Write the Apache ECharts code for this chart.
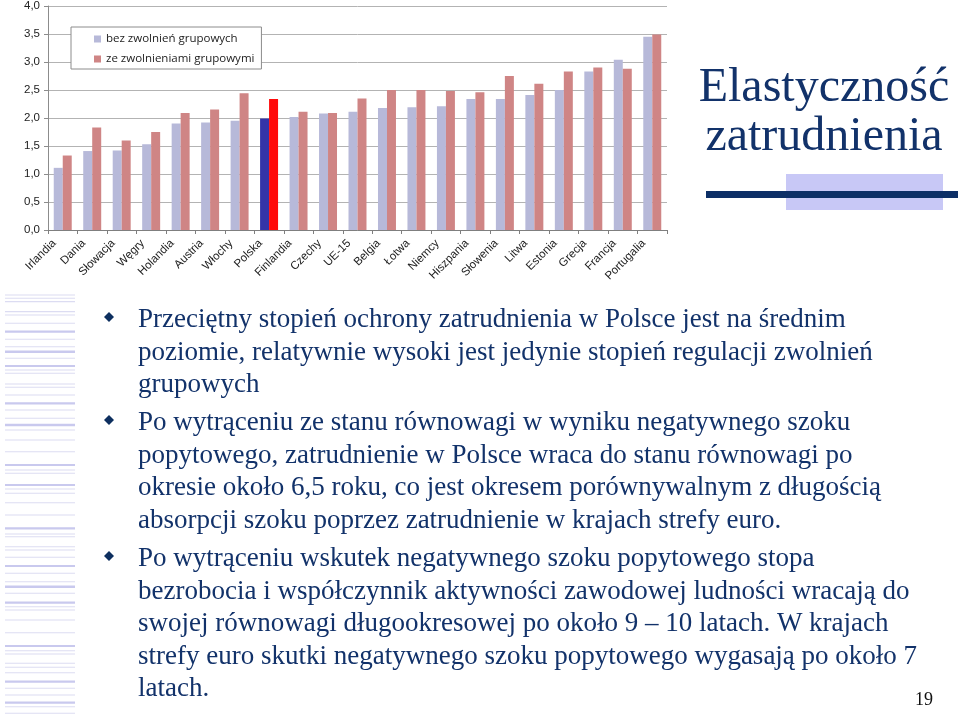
<!DOCTYPE html>
<html><head><meta charset="utf-8">
<script src="https://cdn.jsdelivr.net/npm/echarts@6/dist/echarts.min.js"></script>
<style>html,body{margin:0;padding:0;background:#fff}#c{width:960px;height:715px}</style>
</head><body><div id="c"></div>
<script>
// ---- data ----
const categories = ['Irlandia','Dania','Słowacja','Węgry','Holandia','Austria','Włochy','Polska','Finlandia','Czechy','UE-15','Belgia','Łotwa','Niemcy','Hiszpania','Słowenia','Litwa','Estonia','Grecja','Francja','Portugalia'];
const bezZwolnien = [1.11,1.41,1.42,1.53,1.90,1.92,1.95,1.99,2.02,2.08,2.11,2.18,2.19,2.21,2.34,2.34,2.41,2.50,2.83,3.04,3.45];
const zeZwolnieniami = [1.33,1.83,1.60,1.75,2.09,2.15,2.44,2.34,2.11,2.09,2.35,2.50,2.50,2.48,2.46,2.75,2.61,2.83,2.90,2.88,3.49];
const seriesNames = ['bez zwolnień grupowych','ze zwolnieniami grupowymi'];
const highlightCategory = 'Polska';
const yMin = 0, yMax = 4, yStep = 0.5;

const titleLines = ['Elastyczność','zatrudnienia'];
const bulletParagraphs = [
  ['Przeciętny stopień ochrony zatrudnienia w Polsce jest na średnim',
   'poziomie, relatywnie wysoki jest jedynie stopień regulacji zwolnień',
   'grupowych'],
  ['Po wytrąceniu ze stanu równowagi w wyniku negatywnego szoku',
   'popytowego, zatrudnienie w Polsce wraca do stanu równowagi po',
   'okresie około 6,5 roku, co jest okresem porównywalnym z długością',
   'absorpcji szoku poprzez zatrudnienie w krajach strefy euro.'],
  ['Po wytrąceniu wskutek negatywnego szoku popytowego stopa',
   'bezrobocia i współczynnik aktywności zawodowej ludności wracają do',
   'swojej równowagi długookresowej po około 9 – 10 latach. W krajach',
   'strefy euro skutki negatywnego szoku popytowego wygasają po około 7',
   'latach.']
];
const pageNumber = '19';

// ---- styles ----
const COL_A = '#b7b9d9', COL_B = '#cf8585';
const HI_A = '#3434a8', HI_B = '#ff0a0a';
const NAVY = '#12326a';

const dataA = bezZwolnien.map((v,i)=> categories[i]===highlightCategory ? {value:v,itemStyle:{color:HI_A}} : v);
const dataB = zeZwolnieniami.map((v,i)=> categories[i]===highlightCategory ? {value:v,itemStyle:{color:HI_B}} : v);

// decorative stripes on the left (y, thickness)
const stripes = [[295,1],[298.3,1],[301.7,1.2],[311.7,1.2],[315,1],[323.3,1],[331.7,2.2],[339.3,1],[346.7,1],[351.7,2.4],[358.3,1],[366,2.2],[370,1],[373.3,1],[384,1],[387.3,1],[395,1],[403.3,2.2],[410,1],[418.3,1],[425,2.4],[430,1],[440,1],[451.7,1],[465,2.2],[470,1],[473.3,1],[485,2.2],[489,1],[493.3,1],[502.7,1],[515,1],[528.3,2.2],[534,1],[536.7,1],[546.7,1],[550,1],[557.3,1],[566,2.2],[573.3,1],[581.7,1],[586.7,2.4],[593.3,1],[602.7,2.2],[606.7,1],[610,1],[620,1],[632.7,1],[646,2.2],[650.7,1],[654,1],[663.3,1],[667.3,1],[672.7,1],[681.7,2.2],[688.3,1],[695,1],[702.7,2.2],[706.7,1],[713.3,1]];

const graphics = [];
stripes.forEach(([y,h])=>{
  graphics.push({type:'rect', shape:{x:5,y:y-h/2,width:70,height:h}, style:{fill: h>1.5 ? '#c9c9ee' : '#dcdcf2'}, silent:true});
});
// title decoration
graphics.push({type:'rect', shape:{x:786,y:174,width:157,height:36}, style:{fill:'#c8c8f6'}});
graphics.push({type:'rect', shape:{x:706,y:191,width:252,height:7}, style:{fill:'#0d2f66'}});
// title
titleLines.forEach((t,i)=>{
  graphics.push({type:'text', x:824, y:[88,137][i], style:{text:t, font:'48px "Liberation Serif"', fill:NAVY, align:'center', verticalAlign:'middle'}});
});
// bullets
const paraStartY = [320,423,559];
const lineH = 32.6;
bulletParagraphs.forEach((lines,p)=>{
  const by = paraStartY[p]-3;
  graphics.push({type:'polygon', shape:{points:[[109,by-5],[114,by],[109,by+5],[104,by]]}, style:{fill:'#0d2f5f'}});
  lines.forEach((t,j)=>{
    graphics.push({type:'text', x:138, y:paraStartY[p]+j*lineH, style:{text:t, font:'27px "Liberation Serif"', fill:NAVY, verticalAlign:'middle'}});
  });
});
graphics.push({type:'text', x:924, y:700, style:{text:pageNumber, font:'18px "Liberation Serif"', fill:'#111', align:'center', verticalAlign:'middle'}});

const chart = echarts.init(document.getElementById('c'), null, {renderer:'canvas'});
chart.setOption({
  animation:false,
  backgroundColor:'#fff',
  grid:{left:48, right:293, top:6, bottom:485, containLabel:false},
  legend:{
    data:seriesNames, orient:'vertical', left:71, top:27,
    padding:[6,7,4,23], itemGap:8, itemWidth:7, itemHeight:7, icon:'rect',
    backgroundColor:'#fff', borderColor:'#8c8c8c', borderWidth:1,
    textStyle:{fontFamily:'"Open Sans"', fontSize:11.5, color:'#222'}
  },
  xAxis:{
    type:'category', data:categories,
    axisLine:{lineStyle:{color:'#7f7f7f', width:1}},
    axisTick:{show:true, length:4, lineStyle:{color:'#7f7f7f'}},
    axisLabel:{rotate:45, interval:0, margin:3, padding:[0,12,0,0], fontFamily:'"Liberation Sans"', fontSize:11.5, color:'#222'}
  },
  yAxis:{
    type:'value', min:yMin, max:yMax, interval:yStep,
    axisLine:{show:true, lineStyle:{color:'#8c8c8c'}},
    axisTick:{show:true, length:4, lineStyle:{color:'#8c8c8c'}},
    splitLine:{lineStyle:{color:'#b3b3b3', width:1}},
    axisLabel:{margin:8, fontFamily:'"Liberation Sans"', fontSize:11.5, color:'#222',
      formatter:v=>v.toFixed(1).replace('.',',')}
  },
  series:[
    {name:seriesNames[0], type:'bar', data:dataA, itemStyle:{color:COL_A}, barGap:'0%', barCategoryGap:'39%'},
    {name:seriesNames[1], type:'bar', data:dataB, itemStyle:{color:COL_B}, barGap:'0%', barCategoryGap:'39%'}
  ],
  graphic:graphics
});
</script></body></html>
